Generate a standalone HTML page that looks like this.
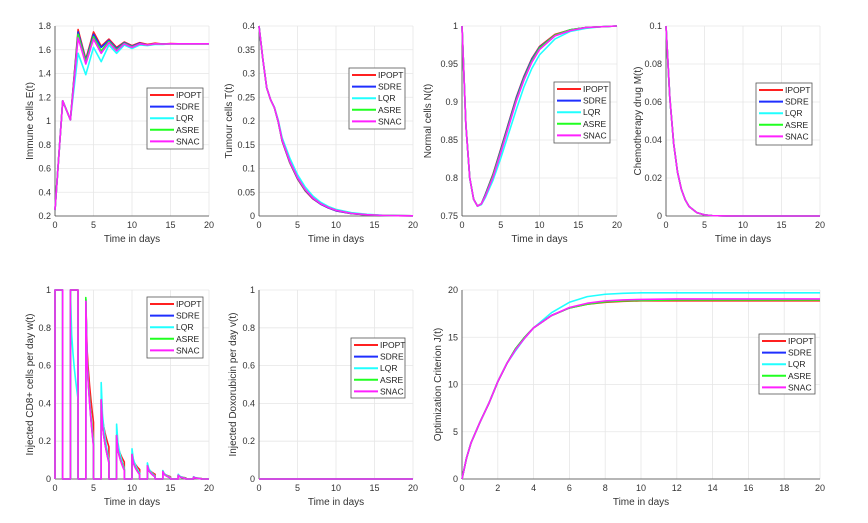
<!DOCTYPE html>
<html><head><meta charset="utf-8"><style>
html,body{margin:0;padding:0;background:#fff;}
svg{display:block;font-family:"Liberation Sans",Arial,sans-serif;}
</style></head><body>
<svg id="fig" width="868" height="523" viewBox="0 0 868 523" xmlns="http://www.w3.org/2000/svg"></svg>
<script>
const methods = ["IPOPT","SDRE","LQR","ASRE","SNAC"];
const colors = ["#ff2020","#1f2fff","#20ffff","#20ff20","#ff20ff"];

// Panel 1: Immune cells E(t), integer days 0..20
const tE = [0,1,2,3,4,5,6,7,8,9,10,11,12,13,14,15,16,17,18,19,20];
const E_IPOPT = [0.25,1.17,1.01,1.77,1.52,1.75,1.63,1.69,1.62,1.665,1.635,1.66,1.645,1.655,1.648,1.652,1.65,1.65,1.65,1.65,1.65];
const E_SDRE  = [0.25,1.17,1.01,1.75,1.51,1.73,1.62,1.68,1.61,1.66,1.63,1.655,1.64,1.65,1.648,1.65,1.65,1.65,1.65,1.65,1.65];
const E_LQR   = [0.25,1.17,1.01,1.57,1.39,1.62,1.50,1.64,1.57,1.64,1.61,1.64,1.635,1.645,1.645,1.65,1.65,1.65,1.65,1.65,1.65];
const E_ASRE  = [0.25,1.17,1.01,1.73,1.50,1.71,1.59,1.67,1.60,1.655,1.625,1.65,1.64,1.65,1.648,1.65,1.65,1.65,1.65,1.65,1.65];
const E_SNAC  = [0.25,1.17,1.01,1.70,1.48,1.69,1.57,1.66,1.59,1.65,1.62,1.65,1.64,1.65,1.648,1.65,1.65,1.65,1.65,1.65,1.65];

// Panel 2: Tumour cells T(t)
const tT = [0,0.5,1,1.5,2,2.5,3,4,5,6,7,8,9,10,12,14,16,18,20];
const T_IPOPT = [0.40,0.33,0.27,0.245,0.228,0.198,0.158,0.112,0.078,0.053,0.036,0.025,0.017,0.011,0.005,0.0025,0.0012,0.0006,0.0003];
const T_SDRE  = [0.40,0.33,0.27,0.245,0.228,0.198,0.159,0.113,0.079,0.054,0.037,0.025,0.017,0.011,0.005,0.0025,0.0012,0.0006,0.0003];
const T_LQR   = [0.40,0.33,0.27,0.245,0.229,0.202,0.165,0.122,0.087,0.061,0.042,0.029,0.020,0.014,0.007,0.0035,0.0017,0.0008,0.0004];
const T_ASRE  = [0.40,0.33,0.27,0.245,0.228,0.199,0.160,0.114,0.080,0.055,0.038,0.026,0.018,0.012,0.0055,0.0027,0.0013,0.0006,0.0003];
const T_SNAC  = [0.40,0.33,0.27,0.245,0.228,0.199,0.160,0.115,0.081,0.056,0.038,0.026,0.018,0.012,0.0055,0.0027,0.0013,0.0006,0.0003];

// Panel 3: Normal cells N(t)
const tN = [0,0.5,1,1.5,2,2.5,3,4,5,6,7,8,9,10,12,14,16,18,20];
const N_IPOPT = [1,0.87,0.80,0.772,0.763,0.766,0.778,0.805,0.838,0.872,0.906,0.934,0.957,0.973,0.989,0.995,0.998,0.999,1];
const N_SDRE  = [1,0.87,0.80,0.772,0.763,0.766,0.778,0.804,0.837,0.871,0.905,0.933,0.956,0.972,0.988,0.995,0.998,0.999,1];
const N_LQR   = [1,0.87,0.80,0.772,0.763,0.765,0.774,0.797,0.826,0.858,0.890,0.920,0.944,0.962,0.983,0.993,0.997,0.999,1];
const N_ASRE  = [1,0.87,0.80,0.772,0.763,0.766,0.777,0.803,0.835,0.869,0.903,0.931,0.954,0.971,0.988,0.995,0.998,0.999,1];
const N_SNAC  = [1,0.87,0.80,0.772,0.763,0.766,0.776,0.801,0.833,0.867,0.901,0.929,0.952,0.969,0.987,0.994,0.998,0.999,1];

// Panel 4: Chemotherapy drug M(t)
const tM = [0,0.5,1,1.5,2,2.5,3,4,5,6,8,10,15,20];
const M_all = [0.1,0.062,0.038,0.023,0.014,0.0085,0.005,0.0018,0.0006,0.0002,0.00003,0,0,0];

// Panel 5: Injected CD8+ cells w(t): pulses
const pulseStart = [0,2,4,6,8,10,12,14,16,18];
const W_peak_IPOPT = [1,1,0.95,0.42,0.23,0.13,0.07,0.04,0.02,0.01];
const W_end_IPOPT  = [1,1,0.30,0.17,0.09,0.05,0.025,0.012,0.006,0.003];
const W_peak_SDRE  = [1,1,0.95,0.42,0.23,0.13,0.07,0.04,0.02,0.01];
const W_end_SDRE   = [1,1,0.18,0.09,0.05,0.025,0.012,0.006,0.003,0.001];
const W_peak_LQR   = [1,1,0.95,0.51,0.29,0.16,0.085,0.045,0.025,0.012];
const W_end_LQR    = [1,0.42,0.20,0.10,0.055,0.03,0.015,0.008,0.004,0.002];
const W_peak_ASRE  = [1,1,0.96,0.42,0.23,0.13,0.07,0.04,0.02,0.01];
const W_end_ASRE   = [1,1,0.18,0.09,0.05,0.025,0.012,0.006,0.003,0.001];
const W_peak_SNAC  = [1,1,0.94,0.42,0.23,0.13,0.07,0.04,0.02,0.01];
const W_end_SNAC   = [1,1,0.17,0.085,0.045,0.022,0.011,0.005,0.002,0.001];

// Panel 6: Doxorubicin v(t)
const tV = [0,20];
const V_all = [0,0];

// Panel 7: Optimization criterion J(t)
const tJ = [0,0.25,0.5,1,1.5,2,2.5,3,3.5,4,5,6,7,8,9,10,12,14,16,18,20];
const J_IPOPT = [0,2.2,3.8,6,8,10.3,12.2,13.8,15,16,17.3,18.1,18.5,18.7,18.8,18.85,18.85,18.85,18.85,18.85,18.85];
const J_SDRE  = [0,2.2,3.8,6,8,10.3,12.2,13.8,15,16,17.3,18.1,18.55,18.8,18.9,18.95,19.0,19.0,19.0,19.0,19.0];
const J_LQR   = [0,2.2,3.8,6,8,10.3,12.2,13.6,14.9,16,17.6,18.7,19.3,19.55,19.65,19.7,19.7,19.7,19.7,19.7,19.7];
const J_ASRE  = [0,2.2,3.8,6,8,10.3,12.2,13.8,15,16,17.3,18.1,18.5,18.75,18.85,18.9,18.95,18.95,18.95,18.95,18.95];
const J_SNAC  = [0,2.2,3.8,6,8,10.3,12.2,13.7,14.9,16,17.3,18.15,18.6,18.85,18.95,19.0,19.05,19.05,19.05,19.05,19.05];

const NS = "http://www.w3.org/2000/svg";
const svg = document.getElementById("fig");
function mk(tag, attrs, parent){ const e=document.createElementNS(NS,tag); for(const k in attrs) e.setAttribute(k,attrs[k]); (parent||svg).appendChild(e); return e; }

function axes(p){
  const g = mk("g",{});
  
  
  const sx = v => p.x0 + (v - p.xmin)/(p.xmax-p.xmin)*(p.x1-p.x0);
  const sy = v => p.y1 - (v - p.ymin)/(p.ymax-p.ymin)*(p.y1-p.y0);
  mk("rect",{x:p.x0,y:p.y0,width:p.x1-p.x0,height:p.y1-p.y0,fill:"#fff"},g);
  p.xt.forEach(v=>{ mk("line",{x1:sx(v),x2:sx(v),y1:p.y0,y2:p.y1,stroke:"#e6e6e6","stroke-width":0.8},g); });
  p.yt.forEach(v=>{ mk("line",{x1:p.x0,x2:p.x1,y1:sy(v),y2:sy(v),stroke:"#e6e6e6","stroke-width":0.8},g); });
  mk("line",{x1:p.x0,x2:p.x0,y1:p.y0,y2:p.y1,stroke:"#444","stroke-width":0.8},g);
  mk("line",{x1:p.x0,x2:p.x1,y1:p.y1,y2:p.y1,stroke:"#444","stroke-width":0.8},g);
  p.xt.forEach((v,i)=>{ const t=mk("text",{x:sx(v),y:p.y1+12,"font-size":9,"text-anchor":"middle",fill:"#333"},g); t.textContent=p.xl[i];
      });
  p.yt.forEach((v,i)=>{ const t=mk("text",{x:p.x0-4,y:sy(v)+3,"font-size":9,"text-anchor":"end",fill:"#333"},g); t.textContent=p.yl[i];
      });
  const xl=mk("text",{x:(p.x0+p.x1)/2,y:p.y1+26,"font-size":10,"text-anchor":"middle",fill:"#333"},g); xl.textContent="Time in days";
   
  const yx=p.ylx, yy=(p.y0+p.y1)/2;
  const yl=mk("text",{x:yx,y:yy,"font-size":10,"text-anchor":"middle",fill:"#333",transform:`rotate(-90 ${yx} ${yy})`},g); yl.textContent=p.ylabel;
   
  return {g,sx,sy};
}
function line(ax, xs, ys, color, nm){
  const pts = xs.map((x,i)=>ax.sx(x).toFixed(2)+","+ax.sy(ys[i]).toFixed(2)).join(" ");
  const l = mk("polyline",{points:pts,fill:"none",stroke:color,"stroke-width":1.6,"stroke-linejoin":"round"},ax.g);
  
  
}
function legend(x,y,w,h){
  const g = mk("g",{});
  
  
  mk("rect",{x:x,y:y,width:w,height:h,fill:"#fff",stroke:"#555","stroke-width":0.8},g);
  methods.forEach((m,i)=>{
    const yy = y+7+i*11.6;
    const l=mk("line",{x1:x+3,x2:x+27,y1:yy,y2:yy,stroke:colors[i],"stroke-width":2},g);
     
    const t=mk("text",{x:x+29,y:yy+3,"font-size":8.5,fill:"#222"},g); t.textContent=m;
     
  });
}
const t20=[0,5,10,15,20], l20=["0","5","10","15","20"];

// Panel 1
let a = axes({name:"immune-cells-plot",x0:55,x1:209,y0:26,y1:216,xmin:0,xmax:20,ymin:0.2,ymax:1.8,xt:t20,xl:l20,
  yt:[0.2,0.4,0.6,0.8,1,1.2,1.4,1.6,1.8],yl:["0.2","0.4","0.6","0.8","1","1.2","1.4","1.6","1.8"],ylx:33,ylabel:"Immune cells E(t)"});
[E_IPOPT,E_SDRE,E_LQR,E_ASRE,E_SNAC].forEach((s,i)=>line(a,tE,s,colors[i],"series-"+methods[i].toLowerCase()));
legend(147,88,56,61);

// Panel 2
a = axes({name:"tumour-cells-plot",x0:259,x1:413,y0:26,y1:216,xmin:0,xmax:20,ymin:0,ymax:0.4,xt:t20,xl:l20,
  yt:[0,0.05,0.1,0.15,0.2,0.25,0.3,0.35,0.4],yl:["0","0.05","0.1","0.15","0.2","0.25","0.3","0.35","0.4"],ylx:232,ylabel:"Tumour cells T(t)"});
[T_IPOPT,T_SDRE,T_LQR,T_ASRE,T_SNAC].forEach((s,i)=>line(a,tT,s,colors[i],"series-"+methods[i].toLowerCase()));
legend(349,68,56,61);

// Panel 3
a = axes({name:"normal-cells-plot",x0:462,x1:617,y0:26,y1:216,xmin:0,xmax:20,ymin:0.75,ymax:1,xt:t20,xl:l20,
  yt:[0.75,0.8,0.85,0.9,0.95,1],yl:["0.75","0.8","0.85","0.9","0.95","1"],ylx:431,ylabel:"Normal cells N(t)"});
[N_IPOPT,N_SDRE,N_LQR,N_ASRE,N_SNAC].forEach((s,i)=>line(a,tN,s,colors[i],"series-"+methods[i].toLowerCase()));
legend(554,82,56,61);

// Panel 4
a = axes({name:"chemotherapy-plot",x0:666,x1:820,y0:26,y1:216,xmin:0,xmax:20,ymin:0,ymax:0.1,xt:t20,xl:l20,
  yt:[0,0.02,0.04,0.06,0.08,0.1],yl:["0","0.02","0.04","0.06","0.08","0.1"],ylx:641,ylabel:"Chemotherapy drug M(t)"});
methods.forEach((m,i)=>line(a,tM,M_all,colors[i],"series-"+m.toLowerCase()));
legend(756,83,56,62);

// Panel 5
a = axes({name:"cd8-injection-plot",x0:55,x1:209,y0:290,y1:479,xmin:0,xmax:20,ymin:0,ymax:1,xt:t20,xl:l20,
  yt:[0,0.2,0.4,0.6,0.8,1],yl:["0","0.2","0.4","0.6","0.8","1"],ylx:33,ylabel:"Injected CD8+ cells per day w(t)"});
const wPeaks=[W_peak_IPOPT,W_peak_SDRE,W_peak_LQR,W_peak_ASRE,W_peak_SNAC];
const wEnds=[W_end_IPOPT,W_end_SDRE,W_end_LQR,W_end_ASRE,W_end_SNAC];
methods.forEach((m,i)=>{
  const xs=[0], ys=[0];
  pulseStart.forEach((s,k)=>{
    const pk=wPeaks[i][k], en=wEnds[i][k], N=6;
    xs.push(s); ys.push(0);
    for(let j=0;j<=N;j++){ const f=j/N; xs.push(s+f); ys.push(pk+(en-pk)*Math.sqrt(f)); }
    xs.push(s+1); ys.push(0);
  });
  xs.push(20); ys.push(0);
  line(a,xs,ys,colors[i],"series-"+m.toLowerCase());
});
legend(147,297,56,61);

// Panel 6
a = axes({name:"doxorubicin-plot",x0:259,x1:413,y0:290,y1:479,xmin:0,xmax:20,ymin:0,ymax:1,xt:t20,xl:l20,
  yt:[0,0.2,0.4,0.6,0.8,1],yl:["0","0.2","0.4","0.6","0.8","1"],ylx:236,ylabel:"Injected Doxorubicin per day v(t)"});
methods.forEach((m,i)=>line(a,tV,V_all,colors[i],"series-"+m.toLowerCase()));
legend(351,338,54,60);

// Panel 7
a = axes({name:"optimization-criterion-plot",x0:462,x1:820,y0:290,y1:479,xmin:0,xmax:20,ymin:0,ymax:20,
  xt:[0,2,4,6,8,10,12,14,16,18,20],xl:["0","2","4","6","8","10","12","14","16","18","20"],
  yt:[0,5,10,15,20],yl:["0","5","10","15","20"],ylx:441,ylabel:"Optimization Criterion J(t)"});
[J_IPOPT,J_SDRE,J_LQR,J_ASRE,J_SNAC].forEach((s,i)=>line(a,tJ,s,colors[i],"series-"+methods[i].toLowerCase()));
legend(759,334,56,60);
</script>
</body></html>
